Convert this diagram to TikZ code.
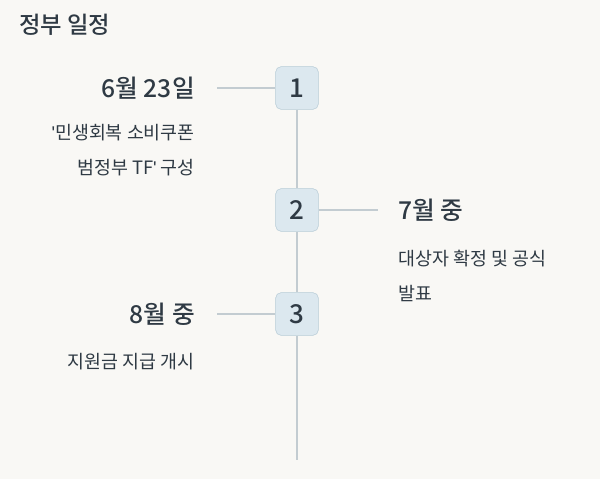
\documentclass[tikz,border=0pt]{standalone}
\usepackage{fontspec}
\setmainfont{Noto Sans CJK KR}[Ligatures=ResetAll]
\newfontfamily\med{Noto Sans CJK KR Medium}[Ligatures=ResetAll]
\newfontfamily\qf{Liberation Sans}[Ligatures=ResetAll]
\newcommand{\sq}{{\qf'}}
\definecolor{bg}{HTML}{F9F8F5}
\definecolor{tx}{HTML}{2F3A44}
\definecolor{ln}{HTML}{C3CCD1}
\definecolor{bx}{HTML}{DCE8EF}
\definecolor{bxd}{HTML}{B8CCD7}
\tikzset{
 numbox/.style={draw=bxd,fill=bx,rounded corners=4pt,minimum width=32pt,minimum height=32pt,font=\med\fontsize{19.5}{20}\selectfont,text=tx,inner sep=0pt},
 datel/.style={font=\med\fontsize{18.5}{20}\selectfont,text=tx,inner sep=0pt},
 descl/.style={font=\fontsize{13.8}{26}\selectfont,text=tx,inner sep=0pt},
 conn/.style={draw=ln,line width=1.5pt}
}
\begin{document}
\begin{tikzpicture}[x=0.75pt,y=-0.75pt]
\fill[bg] (0,0) rectangle (600,479);
\useasboundingbox (0,0) rectangle (600,479);
\node[anchor=west,font=\med\fontsize{17.5}{18}\selectfont,text=tx,inner sep=0pt] (title) at (19,25) {정부 일정};
\coordinate (bot) at (297,460);
\node[numbox] (n1) at (297,88) {1};
\node[numbox] (n2) at (297,210) {2};
\node[numbox] (n3) at (297,314) {3};
\draw[conn] (n1) -- (n2); \draw[conn] (n2) -- (n3); \draw[conn] (n3) -- (bot);
\coordinate (c1) at (217,88); \coordinate (c2) at (378,210); \coordinate (c3) at (217,314);
\draw[conn] (c1) -- (n1.west); \draw[conn] (n2.east) -- (c2); \draw[conn] (c3) -- (n3.west);
\node[datel,anchor=east] (d1) at (195,88) {6월 23일};
\node[datel,anchor=west] (d2) at (398,210) {7월 중};
\node[datel,anchor=east] (d3) at (195,314) {8월 중};
\node[descl,anchor=north east,align=right] (t1) at (195,124) {\sq 민생회복 소비쿠폰\\범정부 TF\sq{} 구성};
\node[descl,anchor=north west,align=left] (t2) at (398,250) {대상자 확정 및 공식\\발표};
\node[descl,anchor=north east,align=right] (t3) at (195,353) {지원금 지급 개시};
\end{tikzpicture}
\end{document}
